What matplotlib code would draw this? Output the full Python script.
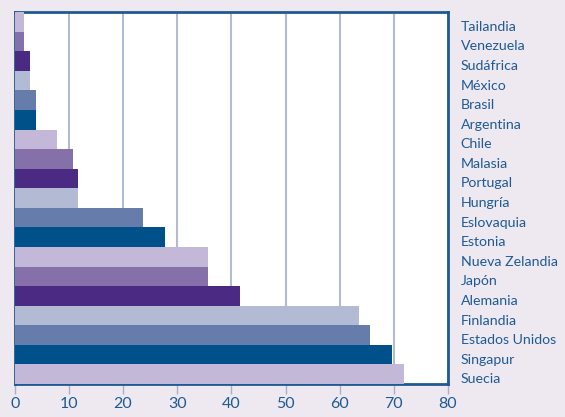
import matplotlib
matplotlib.use("Agg")
from matplotlib import pyplot as plt
from matplotlib import transforms
import numpy as np

# data (top to bottom)
countries = ["Tailandia", "Venezuela", "Sudáfrica", "México", "Brasil", "Argentina",
             "Chile", "Malasia", "Portugal", "Hungría", "Eslovaquia", "Estonia",
             "Nueva Zelandia", "Japón", "Alemania", "Finlandia", "Estados Unidos",
             "Singapur", "Suecia"]
values = [1.7, 1.7, 2.8, 2.8, 3.9, 3.9, 7.9, 10.7, 11.6, 11.6, 23.7, 27.7,
          35.7, 35.7, 41.6, 63.6, 65.6, 69.7, 71.9]
palette = ["#c4b8d8", "#8670aa", "#4b2a84", "#b3bad3", "#667caa", "#00518a"]

text_col = "#1f5a93"
bg = "#eee8f0"

plt.rcParams['font.family'] = ['Lato', 'DejaVu Sans']

fig = plt.figure(figsize=(5.65, 4.17), dpi=100, facecolor=bg)
ax = fig.add_axes([0.026, 0.079, 0.767, 0.892])

y = np.arange(len(countries))
colors = [palette[i % len(palette)] for i in range(len(countries))]
ax.barh(y, values, height=1.0, color=colors, zorder=3)

ax.set_ylim(len(countries) - 0.5, -0.5)
ax.set_xlim(0, 80)
ax.set_xticks(range(0, 81, 10))
ax.xaxis.grid(True, color="#b3bad3", linewidth=1.5, zorder=0)

ax.set_yticks(y)
ax.set_yticklabels(countries)
ax.yaxis.tick_right()
ax.tick_params(axis="y", length=0, pad=9, labelsize=10.2, labelcolor=text_col)
ax.tick_params(axis="x", length=7, width=1, color="#a7b0cc", labelsize=11.5,
               labelcolor=text_col, pad=2)

# labels sit a little below the bar centres in the original
shift = transforms.ScaledTranslation(0, -4 / 100, fig.dpi_scale_trans)
for lbl in ax.get_yticklabels():
    lbl.set_transform(lbl.get_transform() + shift)

for s in ax.spines.values():
    s.set_color("#1f5a93")
    s.set_linewidth(2)

fig.savefig("out.png", dpi=100, facecolor=bg)
